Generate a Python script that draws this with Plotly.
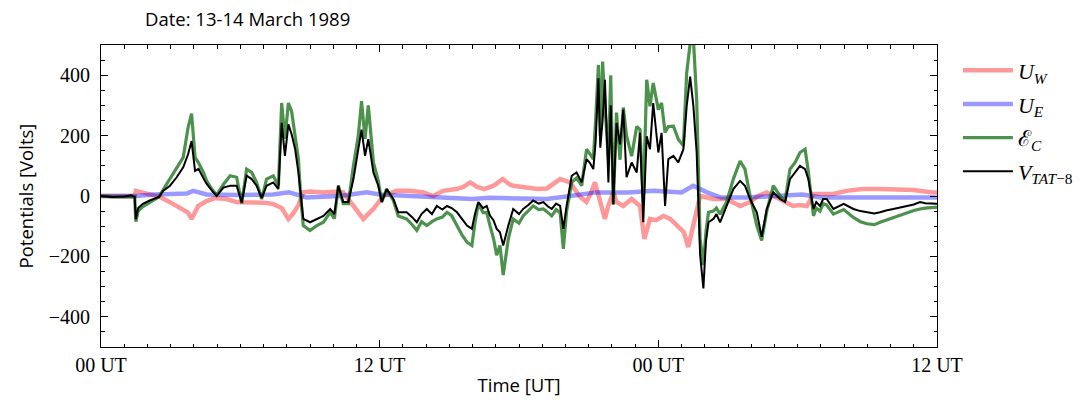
import plotly.graph_objects as go

# ---------------- data (hours since 00 UT 13 March 1989, Volts) ----------------
t_v = [0, 0.5, 1.0, 1.3, 1.45, 1.5, 1.6, 1.8, 2.1, 2.5, 2.67, 2.97, 3.26, 3.54, 3.75, 3.9, 4.05, 4.2, 4.4, 4.55,
       4.75, 4.98, 5.27, 5.56, 5.84, 6.06, 6.27, 6.49, 6.7, 6.92, 7.13, 7.42, 7.64, 7.78, 7.92, 8.07, 8.21, 8.36, 8.5,
       8.6, 8.71, 9.0, 9.29, 9.58, 9.87, 10.05, 10.22, 10.43, 10.65, 10.87, 11.08, 11.22, 11.37, 11.51, 11.73, 11.94,
       12.09, 12.3, 12.59, 12.8, 13.16, 13.4, 13.6, 13.8, 14.03, 14.25, 14.46, 14.7, 14.9, 15.1, 15.33, 15.55, 15.76,
       15.97, 16.1, 16.25, 16.45, 16.61, 16.75, 16.9, 17.04, 17.18, 17.32, 17.54, 17.75, 18.0, 18.18, 18.4, 18.61,
       18.85, 19.05, 19.25, 19.41, 19.6, 19.77, 19.91, 20.05, 20.27, 20.48, 20.7, 20.91, 21.05, 21.2, 21.3, 21.42,
       21.5, 21.6, 21.7, 21.85, 21.95, 22.06, 22.2, 22.35, 22.49, 22.63, 22.85, 23.07, 23.21, 23.35, 23.5, 23.64,
       23.78, 24.0, 24.14, 24.29, 24.43, 24.65, 24.86, 25.08, 25.22, 25.37, 25.51, 25.65, 25.8, 25.94, 26.05, 26.16,
       26.37, 26.5, 26.66, 26.94, 27.23, 27.52, 27.73, 27.95, 28.24, 28.45, 28.67, 28.95, 29.24, 29.46, 29.67, 29.89,
       30.1, 30.32, 30.46, 30.68, 30.8, 30.96, 31.1, 31.25, 31.54, 31.98, 32.4, 32.7, 32.98, 33.3, 33.55, 33.8, 34.12,
       34.4, 34.7, 35.0, 35.27, 35.5, 36.0]

v_tat = [0, -3, -2, 2, -3, -77, -40, -26, -15, -3, 17, 34, 62, 95, 138, 182, 83, 90, 60, 40,
         20, 0, 28, 34, 34, -21, 67, 56, 34, -7, 34, 45, 23, 242, 133, 237, 204, 155, 78,
         0, -76, -87, -76, -66, -43, -60, 34, -20, -20, 56, 155, 220, 133, 188, 78, 34,
         -20, 23, -10, -54, -54, -70, -87, -60, -43, -60, -33, -45, -33, -40, -54, -75, -98,
         -109, -60, -20, -40, -33, -65, -80, -109, -120, -164, -98, -43, -60, -43, -30, -15,
         -25, -20, -35, -43, -25, -33, -109, -33, 67, 78, 45, 122, 110, 89, 180, 390,
         160, 250, 385, 45, 300, -26, 242, 171, 286, 62, 111, 78, 209, -87, 198, 155,
         308, 144, 209, -33, 122, 133, 111, 155, 297, 395, 297, 144, -196, -306, -150, -87,
         -76, -60, -87, -33, 23, 50, 34, -10, -54, -135, -43, 12, -10, -20, 56, 78,
         100, 89, 56, -43, -20, -33, -10, -10, -43, -26, -43, -50, -54, -58, -54, -48, -43,
         -38, -33, -28, -20, -24, -26]

t_c = t_v
e_c = [0, -3, -3, -3, -3, -85, -50, -35, -20, -3, 20, 56, 95, 128, 227, 273, 128, 110, 80, 50,
       25, 3, 38, 67, 62, -25, 89, 78, 45, -10, 56, 67, 34, 308, 189, 308, 280, 200, 122,
       0, -98, -114, -98, -87, -54, -75, 34, -25, -25, 100, 200, 314, 189, 300, 111, 50,
       -20, 23, -15, -66, -76, -95, -114, -85, -98, -85, -76, -70, -54, -65, -98, -130, -153,
       -164, -90, -25, -55, -54, -98, -140, -196, -164, -262, -142, -76, -90, -66, -50, -33,
       -45, -43, -55, -66, -45, -55, -175, -50, 45, 60, 34, 155, 140, 122, 250, 434,
       200, 445, 300, 120, 400, -30, 276, 120, 293, 200, 132, 230, 220, -20, 385, 297,
       374, 286, 308, 210, 230, 231, 188, 166, 407, 505, 520, 320, -142, -229, -120, -54,
       -50, -40, -60, -20, 56, 116, 89, 0, -98, -147, -50, 34, 0, -15, 89, 111,
       144, 155, 80, -66, -40, -50, -25, -30, -60, -45, -71, -85, -92, -95, -87, -80, -71,
       -62, -54, -48, -43, -40, -37]

t_w = [0, 1.45, 1.5, 1.97, 2.54, 3.1, 3.54, 3.75, 3.9, 4.05, 4.19, 4.55, 4.9, 5.41, 5.84, 6.06, 6.5, 7.0, 7.4,
       7.78, 8.07, 8.3, 8.5, 8.71, 9.0, 9.58, 10.0, 10.43, 10.87, 11.1, 11.3, 11.5, 11.73, 12.15, 12.45, 12.73,
       13.3, 13.89, 14.3, 14.73, 15.3, 15.6, 15.9, 16.2, 16.5, 16.9, 17.3, 17.6, 17.75, 18.3, 18.8, 19.2, 19.5,
       19.77, 20.2, 20.6, 20.9, 21.1, 21.27, 21.5, 21.7, 21.85, 22.06, 22.2, 22.49, 22.85, 23.21, 23.4, 23.64,
       23.9, 24.22, 24.5, 24.79, 25.1, 25.29, 25.51, 25.8, 26.1, 26.37, 26.94, 27.52, 27.95, 28.3, 28.67, 29.24,
       29.8, 30.1, 30.4, 30.68, 31.54, 32.1, 32.8, 33.5, 34.2, 35.0, 35.8, 36.0]
u_w = [0, 0, 17, 7, -3, -26, -43, -55, -76, -55, -33, -17, -7, -10, -20, -21, -20, -22, -26,
       -40, -76, -55, -30, 12, 15, 12, 14, 12, -33, -55, -76, -60, -43, 0, 10, 17,
       17, 12, 0, 17, 23, 30, 45, 30, 23, 34, 56, 38, 34, 30, 23, 25, 40,
       56, 45, 0, -20, 10, 45, -20, -76, -30, 12, -20, -33, -10, -33, -142, -76,
       -80, -66, -75, -98, -120, -169, -98, 0, -5, -10, -10, -33, -20, 0, 12, -10,
       -33, -30, -33, 7, 7, 17, 23, 23, 23, 20, 12, 12]

t_e = [0, 1.5, 2.3, 3.0, 3.7, 3.97, 4.3, 4.55, 5.98, 7.4, 8.1, 8.85, 10.3, 11.44, 12.0, 13.16, 14.6, 16.0,
       16.7, 17.5, 18.5, 19.2, 20.2, 21.3, 22.7, 23.8, 25.0, 25.5, 26.1, 26.7, 27.8, 29.2, 30.2, 31.0, 33.0, 36.0]
u_e = [0, 0, 5, 5, 8, 17, 8, 5, 3, 5, 12, -5, 0, 12, 5, 0, -5, -10,
       -6, -8, -8, -10, 0, 12, 12, 17, 12, 34, 12, -5, -5, 0, 5, -5, -5, -5]

x_tickvals = [0, 12, 24, 36]
x_ticktext = ["00 UT", "12 UT", "00 UT", "12 UT"]
y_tickvals = [-400, -200, 0, 200, 400]
y_ticktext = ["−400", "−200", "0", "200", "400"]

names = ["<i>U<sub>W</sub></i>", "<i>U<sub>E</sub></i>", "ℰ<sub><i>C</i></sub>", "<i>V<sub>TAT</sub></i><sub>−8</sub>"]

fig = go.Figure()
fig.add_trace(go.Scatter(x=t_w, y=u_w, mode="lines", name=names[0], legendgroup="a",
                         line=dict(color="rgba(255,0,0,0.4)", width=4.5)))
fig.add_trace(go.Scatter(x=t_e, y=u_e, mode="lines", name=names[1], legendgroup="b",
                         line=dict(color="rgba(0,0,255,0.4)", width=4.5)))
fig.add_trace(go.Scatter(x=t_c, y=e_c, mode="lines", name=names[2], legendgroup="c",
                         line=dict(color="rgba(0,100,0,0.7)", width=3.2)))
fig.add_trace(go.Scatter(x=t_v, y=v_tat, mode="lines", name=names[3], legendgroup="d",
                         line=dict(color="black", width=2)))

serif = "Liberation Serif, DejaVu Serif, serif"
sans = "Open Sans, DejaVu Sans, sans-serif"

fig.update_layout(
    width=1092, height=405,
    margin=dict(l=101, r=155, t=45, b=55),
    paper_bgcolor="white", plot_bgcolor="white",
    showlegend=True,
    legend=dict(x=1.025, y=0.985, xanchor="left", yanchor="top",
                font=dict(family=serif, size=22, color="black"),
                tracegroupgap=2, itemwidth=50, bgcolor="rgba(0,0,0,0)"),
    annotations=[dict(text="Date: 13-14 March 1989", xref="paper", yref="paper",
                      x=0.05, y=1.088, xanchor="left", yanchor="middle", showarrow=False,
                      font=dict(family=sans, size=18.5, color="black"))],
)

fig.update_xaxes(
    range=[0, 36], tickvals=x_tickvals, ticktext=x_ticktext,
    ticks="inside", ticklen=7, tickwidth=1, tickcolor="black",
    showline=True, linecolor="black", linewidth=1, mirror="allticks",
    showgrid=False, zeroline=False,
    tickfont=dict(family=serif, size=20, color="black"),
    minor=dict(dtick=1, tick0=0, ticks="inside", ticklen=3.5, tickcolor="black", showgrid=False),
    title=dict(text="Time [UT]", font=dict(family=sans, size=18.5, color="black"), standoff=4),
)
fig.update_yaxes(
    range=[-500, 500], tickvals=y_tickvals, ticktext=y_ticktext,
    ticks="inside", ticklen=7, tickwidth=1, tickcolor="black",
    showline=True, linecolor="black", linewidth=1, mirror="allticks",
    showgrid=False, zeroline=False,
    tickfont=dict(family=serif, size=20, color="black"),
    ticklabelstandoff=6,
    minor=dict(dtick=50, tick0=0, ticks="inside", ticklen=3.5, tickcolor="black", showgrid=False),
    title=dict(text="Potentials [Volts]", font=dict(family=sans, size=18.5, color="black"), standoff=10),
)

fig.write_html("out.html")
